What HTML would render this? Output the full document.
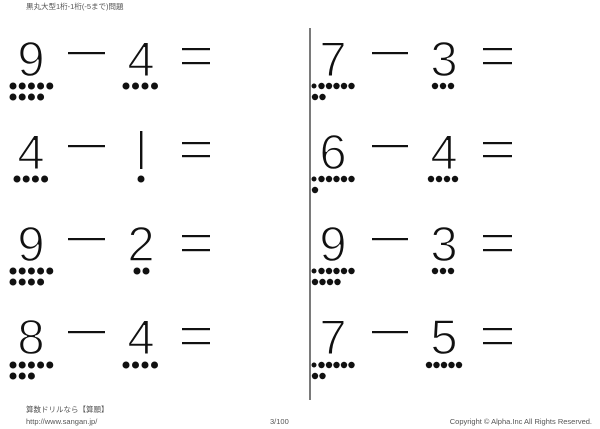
<!DOCTYPE html>
<html><head><meta charset="utf-8"><style>
html,body{margin:0;padding:0;background:#fff;}
body{width:600px;height:429px;overflow:hidden;position:relative;}
svg{position:absolute;left:0;top:0;}
.d{font-family:"Liberation Sans",sans-serif;font-size:49px;fill:#111;stroke:#fff;stroke-width:1.4px;paint-order:normal;text-anchor:middle;}
.s{font-family:"Liberation Sans","Noto Sans CJK JP",sans-serif;font-size:7.5px;fill:#555;}
</style></head><body>
<svg width="600" height="429" viewBox="0 0 600 429" xmlns="http://www.w3.org/2000/svg">
<text class="s" x="26" y="9">黒丸大型1桁-1桁(-5まで)問題</text>
<line x1="310" y1="28" x2="310" y2="400" stroke="#222" stroke-width="1.2"/>
<g id="all" fill="#111">
<!-- Row 1 T=40 -->
<text class="d" x="31" y="76">9</text>
<rect x="68" y="52" width="37" height="2.2"/>
<text class="d" x="141" y="76">4</text>
<rect x="182" y="48" width="28" height="2.2"/><rect x="182" y="62" width="28" height="2.2"/>
<g><circle cx="13" cy="86" r="3.5"/><circle cx="22.2" cy="86" r="3.5"/><circle cx="31.4" cy="86" r="3.5"/><circle cx="40.6" cy="86" r="3.5"/><circle cx="49.8" cy="86" r="3.5"/>
<circle cx="13" cy="97" r="3.5"/><circle cx="22.2" cy="97" r="3.5"/><circle cx="31.4" cy="97" r="3.5"/><circle cx="40.6" cy="97" r="3.5"/></g>
<g><circle cx="126" cy="86" r="3.5"/><circle cx="135.5" cy="86" r="3.5"/><circle cx="145" cy="86" r="3.5"/><circle cx="154.5" cy="86" r="3.5"/></g>

<text class="d" x="333" y="76">7</text>
<rect x="372" y="52" width="36" height="2.2"/>
<text class="d" x="444" y="76">3</text>
<rect x="483" y="48" width="29" height="2.2"/><rect x="483" y="62" width="29" height="2.2"/>
<g><circle cx="314" cy="86" r="2.5"/><circle cx="321.5" cy="86" r="3.2"/><circle cx="329" cy="86" r="3.2"/><circle cx="336.5" cy="86" r="3.2"/><circle cx="344" cy="86" r="3.2"/><circle cx="351.5" cy="86" r="3.2"/>
<circle cx="315" cy="97" r="3.2"/><circle cx="322.5" cy="97" r="3.2"/></g>
<g><circle cx="435" cy="86" r="3.2"/><circle cx="443" cy="86" r="3.2"/><circle cx="451" cy="86" r="3.2"/></g>

<!-- Row 2 T=133 -->
<text class="d" x="31" y="169">4</text>
<rect x="68" y="145" width="37" height="2.2"/>
<rect x="140" y="131" width="2.4" height="38"/>
<rect x="182" y="142" width="28" height="2.2"/><rect x="182" y="155" width="28" height="2.2"/>
<g><circle cx="17" cy="179" r="3.5"/><circle cx="26.2" cy="179" r="3.5"/><circle cx="35.4" cy="179" r="3.5"/><circle cx="44.6" cy="179" r="3.5"/></g>
<circle cx="141" cy="179" r="3.5"/>

<text class="d" x="333" y="169">6</text>
<rect x="372" y="145" width="36" height="2.2"/>
<text class="d" x="444" y="169">4</text>
<rect x="483" y="142" width="29" height="2.2"/><rect x="483" y="155" width="29" height="2.2"/>
<g><circle cx="314" cy="179" r="2.5"/><circle cx="321.5" cy="179" r="3.2"/><circle cx="329" cy="179" r="3.2"/><circle cx="336.5" cy="179" r="3.2"/><circle cx="344" cy="179" r="3.2"/><circle cx="351.5" cy="179" r="3.2"/>
<circle cx="315" cy="190" r="3.2"/></g>
<g><circle cx="431" cy="179" r="3.2"/><circle cx="439" cy="179" r="3.2"/><circle cx="447" cy="179" r="3.2"/><circle cx="455" cy="179" r="3.2"/></g>

<!-- Row 3 T=225 -->
<text class="d" x="31" y="261">9</text>
<rect x="68" y="238" width="37" height="2.2"/>
<text class="d" x="141" y="261">2</text>
<rect x="182" y="235" width="28" height="2.2"/><rect x="182" y="249" width="28" height="2.2"/>
<g><circle cx="13" cy="271" r="3.5"/><circle cx="22.2" cy="271" r="3.5"/><circle cx="31.4" cy="271" r="3.5"/><circle cx="40.6" cy="271" r="3.5"/><circle cx="49.8" cy="271" r="3.5"/>
<circle cx="13" cy="282" r="3.5"/><circle cx="22.2" cy="282" r="3.5"/><circle cx="31.4" cy="282" r="3.5"/><circle cx="40.6" cy="282" r="3.5"/></g>
<g><circle cx="137" cy="271" r="3.5"/><circle cx="146" cy="271" r="3.5"/></g>

<text class="d" x="333" y="261">9</text>
<rect x="372" y="238" width="36" height="2.2"/>
<text class="d" x="444" y="261">3</text>
<rect x="483" y="235" width="29" height="2.2"/><rect x="483" y="249" width="29" height="2.2"/>
<g><circle cx="314" cy="271" r="2.5"/><circle cx="321.5" cy="271" r="3.2"/><circle cx="329" cy="271" r="3.2"/><circle cx="336.5" cy="271" r="3.2"/><circle cx="344" cy="271" r="3.2"/><circle cx="351.5" cy="271" r="3.2"/>
<circle cx="315" cy="282" r="3.2"/><circle cx="322.5" cy="282" r="3.2"/><circle cx="330" cy="282" r="3.2"/><circle cx="337.5" cy="282" r="3.2"/></g>
<g><circle cx="435" cy="271" r="3.2"/><circle cx="443" cy="271" r="3.2"/><circle cx="451" cy="271" r="3.2"/></g>

<!-- Row 4 T=318 -->
<text class="d" x="31" y="354">8</text>
<rect x="68" y="331" width="37" height="2.2"/>
<text class="d" x="141" y="354">4</text>
<rect x="182" y="328" width="28" height="2.2"/><rect x="182" y="342" width="28" height="2.2"/>
<g><circle cx="13" cy="365" r="3.5"/><circle cx="22.2" cy="365" r="3.5"/><circle cx="31.4" cy="365" r="3.5"/><circle cx="40.6" cy="365" r="3.5"/><circle cx="49.8" cy="365" r="3.5"/>
<circle cx="13" cy="376" r="3.5"/><circle cx="22.2" cy="376" r="3.5"/><circle cx="31.4" cy="376" r="3.5"/></g>
<g><circle cx="126" cy="365" r="3.5"/><circle cx="135.5" cy="365" r="3.5"/><circle cx="145" cy="365" r="3.5"/><circle cx="154.5" cy="365" r="3.5"/></g>

<text class="d" x="333" y="354">7</text>
<rect x="372" y="331" width="36" height="2.2"/>
<text class="d" x="444" y="354">5</text>
<rect x="483" y="328" width="29" height="2.2"/><rect x="483" y="342" width="29" height="2.2"/>
<g><circle cx="314" cy="365" r="2.5"/><circle cx="321.5" cy="365" r="3.2"/><circle cx="329" cy="365" r="3.2"/><circle cx="336.5" cy="365" r="3.2"/><circle cx="344" cy="365" r="3.2"/><circle cx="351.5" cy="365" r="3.2"/>
<circle cx="315" cy="376" r="3.2"/><circle cx="322.5" cy="376" r="3.2"/></g>
<g><circle cx="429" cy="365" r="3.2"/><circle cx="436.5" cy="365" r="3.2"/><circle cx="444" cy="365" r="3.2"/><circle cx="451.5" cy="365" r="3.2"/><circle cx="459" cy="365" r="3.2"/></g>
</g>
<text class="s" x="26" y="412">算数ドリルなら【算願】</text>
<text class="s" x="26" y="424">http://www.sangan.jp/</text>
<text class="s" x="270" y="424">3/100</text>
<text class="s" x="592" y="424" text-anchor="end">Copyright © Alpha.Inc All Rights Reserved.</text>
</svg>
</body></html>
